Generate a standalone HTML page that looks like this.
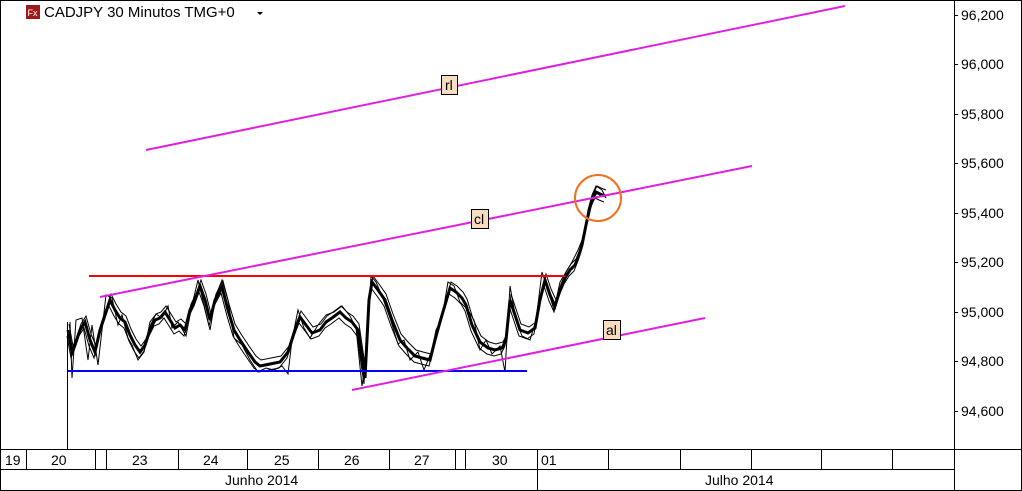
<!DOCTYPE html>
<html><head><meta charset="utf-8"><style>
html,body{margin:0;padding:0;background:#fff;}
svg{display:block;font-family:"Liberation Sans",Arial,sans-serif;}
</style></head><body>
<svg width="1022" height="491" viewBox="0 0 1022 491" xmlns="http://www.w3.org/2000/svg">
<defs>
<polyline id="m" points="68,330 72,352 75,345 80,330 85,322 90,340 95,352 100,330 105,315 110,300 115,310 120,318 125,322 130,335 135,345 140,352 145,345 150,330 155,320 160,318 165,312 170,320 175,328 180,325 185,330 190,310 195,300 200,286 205,300 210,320 215,300 222,287 228,310 234,330 240,340 248,352 255,362 260,366 270,364 280,362 288,352 295,330 300,317 306,325 312,333 320,330 326,322 332,318 340,312 346,318 352,322 358,330 365,378 369,300 372,282 378,290 385,300 392,320 400,340 407,348 415,356 422,358 430,360 435,340 440,322 445,305 450,288 456,292 462,298 466,305 472,325 480,342 488,348 495,350 502,348 506,340 510,300 515,315 520,330 528,333 535,328 540,300 545,280 550,295 555,306 560,290 565,278 570,270 575,265 579,255 582,245 586,225 590,207 593,198 596,192 600,194 605,196"/>
</defs>
<rect x="0" y="0" width="1022" height="491" fill="#fff"/>
<rect x="0.5" y="0.5" width="1021" height="490" fill="none" stroke="#000"/>
<line x1="954.5" y1="0" x2="954.5" y2="491" stroke="#000"/>
<line x1="0" y1="449.5" x2="1022" y2="449.5" stroke="#000"/>
<line x1="0" y1="469.5" x2="954" y2="469.5" stroke="#000"/>
<g stroke="#000">
<line x1="26.5" y1="449" x2="26.5" y2="469"/>
<line x1="95.5" y1="449" x2="95.5" y2="469"/>
<line x1="106.5" y1="449" x2="106.5" y2="469"/>
<line x1="178.5" y1="449" x2="178.5" y2="469"/>
<line x1="247.5" y1="449" x2="247.5" y2="469"/>
<line x1="318.5" y1="449" x2="318.5" y2="469"/>
<line x1="389.5" y1="449" x2="389.5" y2="469"/>
<line x1="455.5" y1="449" x2="455.5" y2="469"/>
<line x1="465.5" y1="449" x2="465.5" y2="469"/>
<line x1="537.5" y1="449" x2="537.5" y2="491"/>
<line x1="608.5" y1="449" x2="608.5" y2="469"/>
<line x1="680.5" y1="449" x2="680.5" y2="469"/>
<line x1="751.5" y1="449" x2="751.5" y2="469"/>
<line x1="821.5" y1="449" x2="821.5" y2="469"/>
<line x1="892.5" y1="449" x2="892.5" y2="469"/>
</g>
<g font-size="14" fill="#000">
<text x="5" y="465">19</text>
<text x="51" y="465">20</text>
<text x="132" y="465">23</text>
<text x="203" y="465">24</text>
<text x="274" y="465">25</text>
<text x="344" y="465">26</text>
<text x="414" y="465">27</text>
<text x="492" y="465">30</text>
<text x="541" y="465">01</text>
<text x="225" y="485">Junho 2014</text>
<text x="705" y="485">Julho 2014</text>
</g>
<g stroke="#000">
<line x1="954" y1="15.5" x2="958" y2="15.5"/>
<line x1="954" y1="64.5" x2="958" y2="64.5"/>
<line x1="954" y1="114.5" x2="958" y2="114.5"/>
<line x1="954" y1="163.5" x2="958" y2="163.5"/>
<line x1="954" y1="213.5" x2="958" y2="213.5"/>
<line x1="954" y1="262.5" x2="958" y2="262.5"/>
<line x1="954" y1="312.5" x2="958" y2="312.5"/>
<line x1="954" y1="361.5" x2="958" y2="361.5"/>
<line x1="954" y1="411.5" x2="958" y2="411.5"/>
</g>
<g font-size="14" fill="#000">
<text x="961" y="20">96,200</text>
<text x="961" y="69">96,000</text>
<text x="961" y="119">95,800</text>
<text x="961" y="168">95,600</text>
<text x="961" y="218">95,400</text>
<text x="961" y="267">95,200</text>
<text x="961" y="317">95,000</text>
<text x="961" y="366">94,800</text>
<text x="961" y="416">94,600</text>
</g>
<rect x="26" y="5" width="14" height="14" fill="#a01818"/>
<text x="27.5" y="16" font-size="9" fill="#fff">Fx</text>
<text x="44" y="17" font-size="15" fill="#000">CADJPY 30 Minutos TMG+0</text>
<path d="M257 12 L263 12 L260 15 Z" fill="#000"/>
<line x1="67.5" y1="322" x2="67.5" y2="449" stroke="#000"/>
<g fill="none" stroke="#000">
<use href="#m" stroke-width="3"/>
<use href="#m" stroke-width="1" transform="translate(1,-6)"/>
<use href="#m" stroke-width="1" transform="translate(-1,6)"/>
<polyline stroke-width="1" points="70,322 72,378 76,320 82,318 88,360 92,325 98,365 106,295 112,298 118,325 122,315 128,338 132,345 138,360 144,352 150,322 156,314 162,318 168,306 172,328 178,322 186,336 192,305 198,280 204,305 210,330 216,295 222,280 228,300 234,338 242,345 250,360 258,372 266,368 274,370 282,366 288,374 292,340 298,310 304,328 310,338 318,325 326,315 334,312 342,306 350,316 356,328 362,386 366,360 371,276 376,282 382,296 390,318 398,344 404,340 410,360 418,352 424,370 432,350 436,330 442,318 448,282 454,286 460,302 468,310 474,320 480,350 486,340 492,354 500,346 505,372 510,286 516,320 522,336 530,340 536,320 542,272 548,290 554,310 560,282 566,272 572,262 578,250 584,235 588,210 592,195 596,186 602,190 606,198"/>
</g>
<line x1="89" y1="276" x2="565" y2="276" stroke="#f00" stroke-width="2"/>
<line x1="68" y1="371" x2="527" y2="371" stroke="#00f" stroke-width="2"/>
<g stroke="#e020e0" stroke-width="2">
<line x1="146" y1="150" x2="845" y2="6"/>
<line x1="100" y1="297" x2="752" y2="166"/>
<line x1="352" y1="390" x2="705" y2="318"/>
</g>
<circle cx="598" cy="198" r="23" fill="none" stroke="#f07020" stroke-width="2"/>
<g font-size="14" fill="#000">
<rect x="441.5" y="75.5" width="16" height="19" fill="#f8dcc0" stroke="#000"/><text x="445" y="90">rl</text>
<rect x="471.5" y="209.5" width="17" height="19" fill="#f8dcc0" stroke="#000"/><text x="474" y="224">cl</text>
<rect x="603.5" y="320.5" width="17" height="19" fill="#f8dcc0" stroke="#000"/><text x="606" y="335">al</text>
</g>
</svg>
</body></html>
